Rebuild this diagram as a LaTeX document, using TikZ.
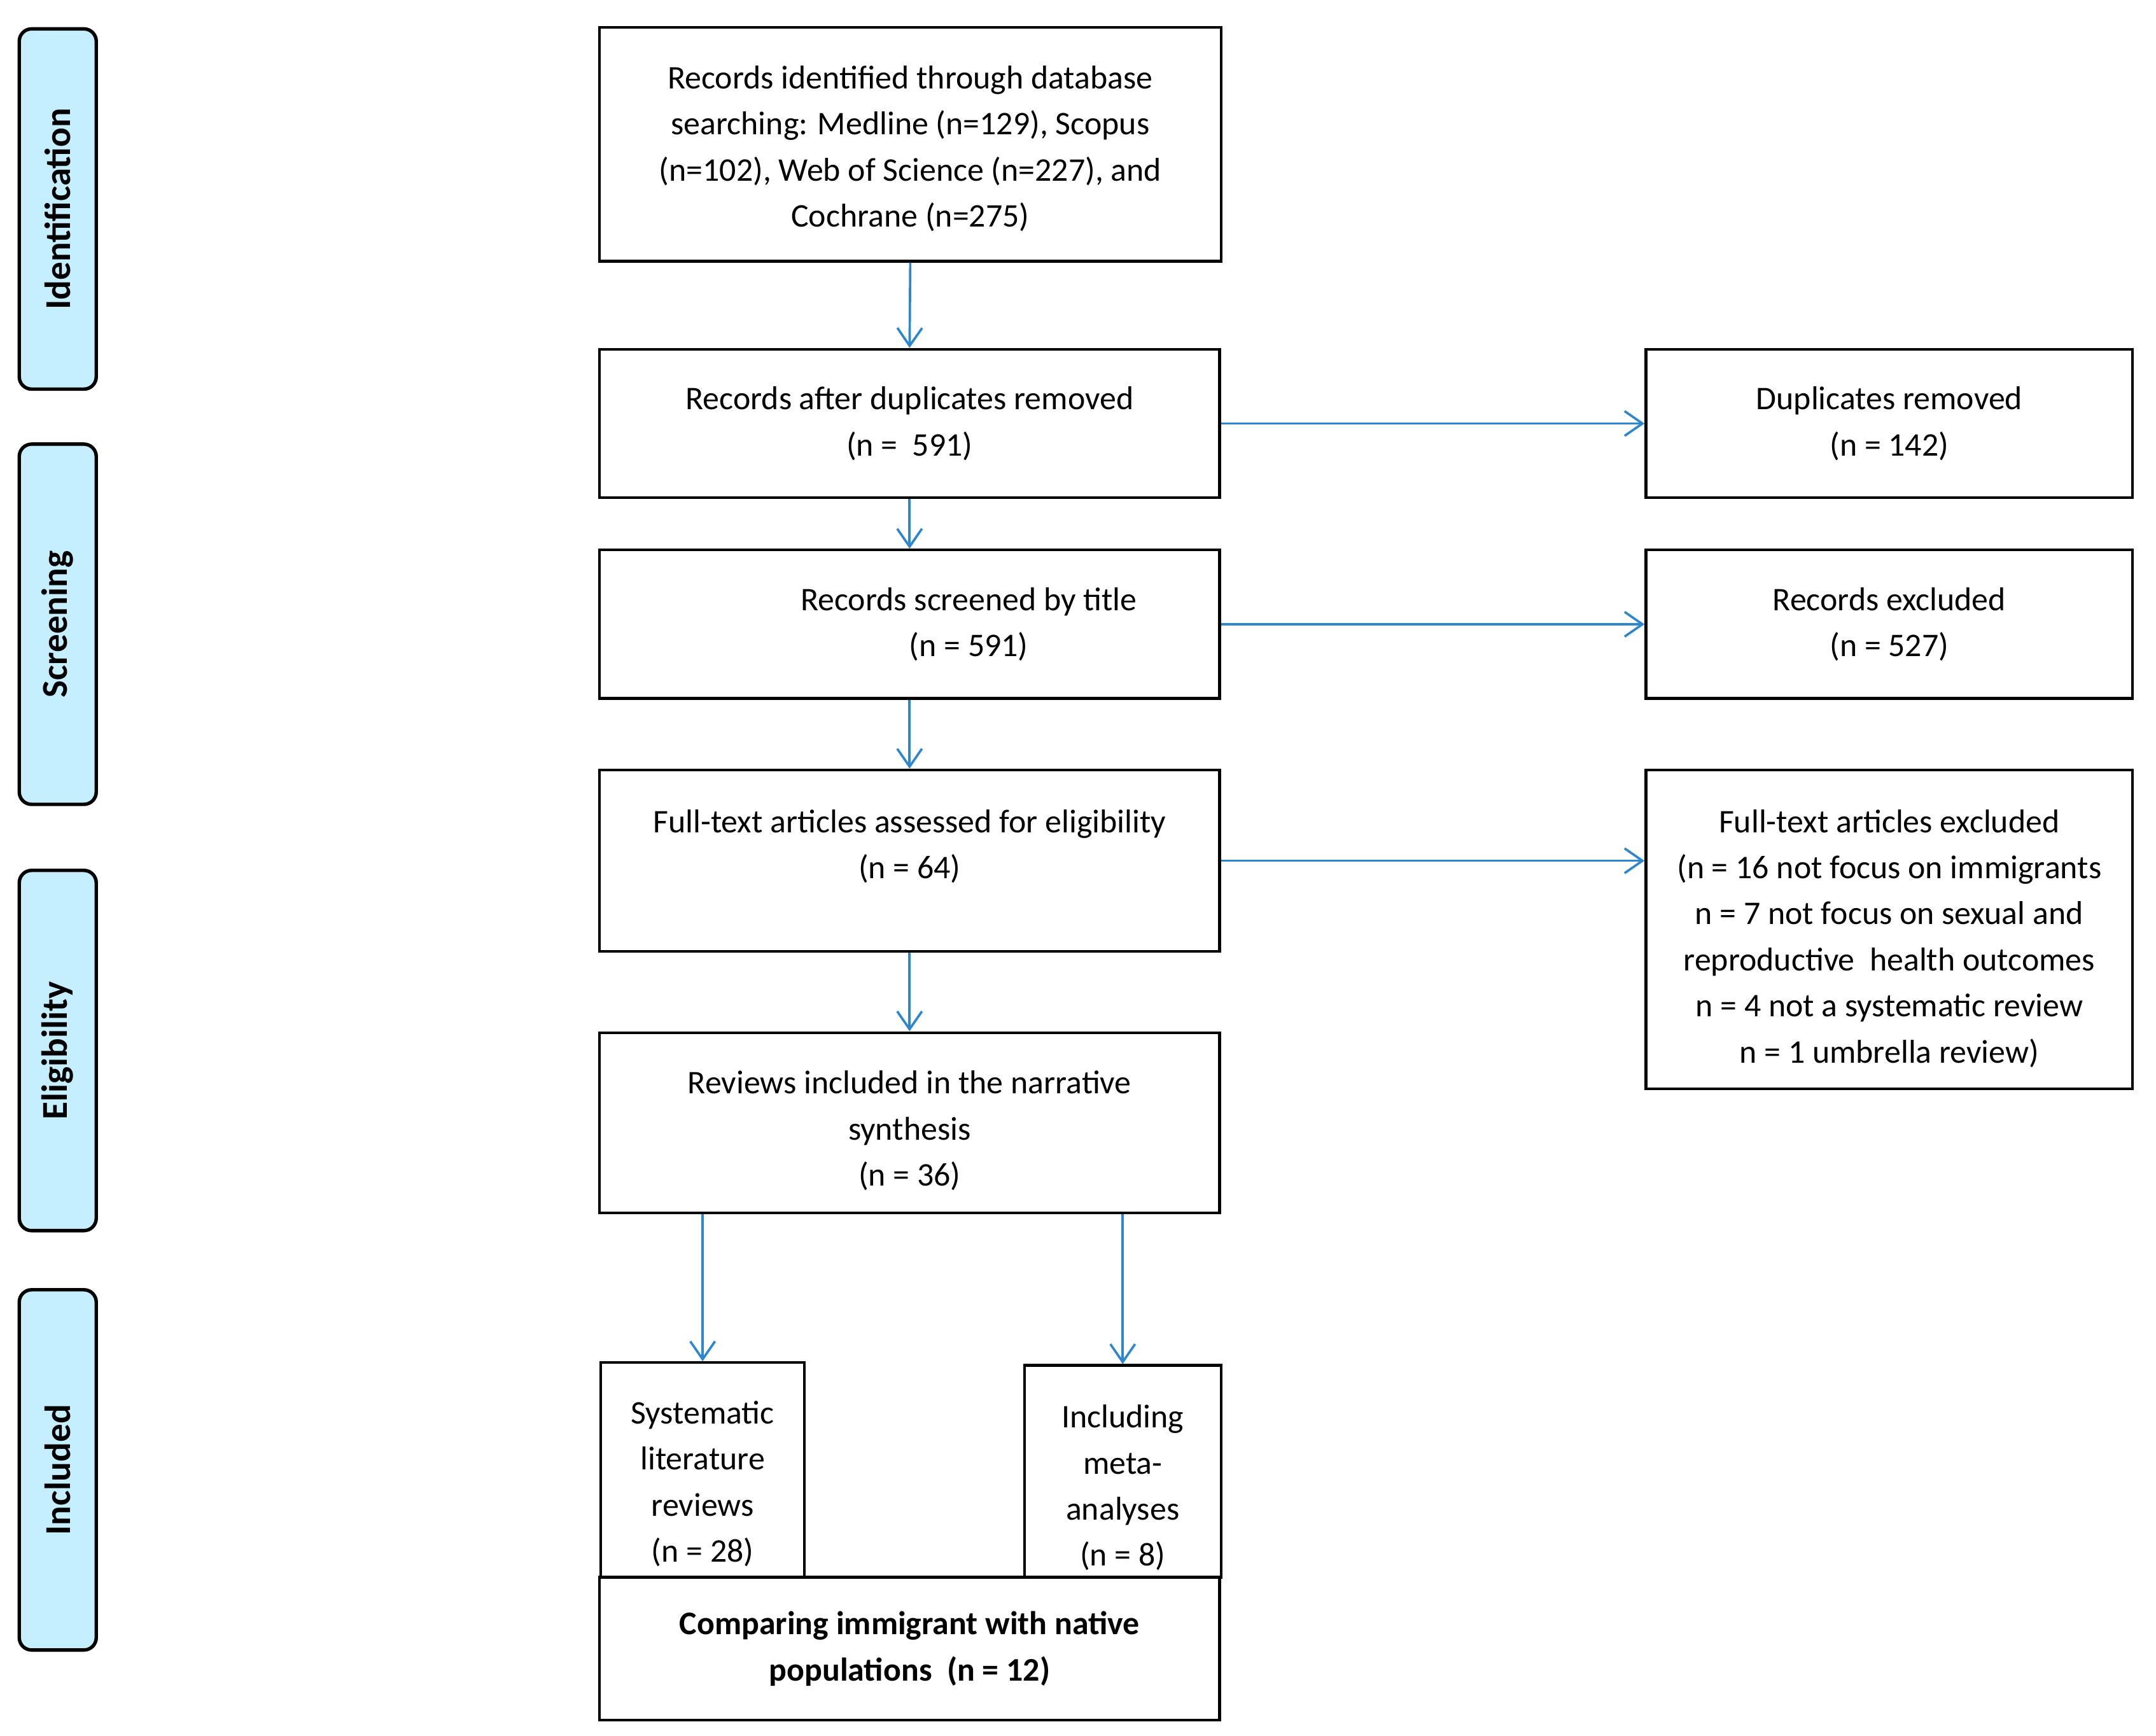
\documentclass[tikz,border=0pt]{standalone}
\usepackage{fontspec}
\setmainfont{Carlito}
\usetikzlibrary{arrows.meta}
\definecolor{arrowblue}{RGB}{46,134,204}
\definecolor{sidefill}{RGB}{197,238,254}
\newcommand{\mytopbox}[4]{\parbox[c][#1][t]{#2}{\centering\vspace*{#3}\strut#4}}
\begin{document}
\begin{tikzpicture}[x=1pt,y=-1pt,
  box/.style={draw, line width=2pt, inner sep=0pt, align=center, font=\fontsize{24}{33.5}\selectfont},
  side/.style={draw, line width=2.5pt, fill=sidefill, rounded corners=9pt, minimum width=262pt, minimum height=56pt, inner sep=0pt, rotate=90, font=\fontsize{26.5}{30}\selectfont\bfseries},
  flow/.style={draw=arrowblue, line width=1.7pt, -{Straight Barb[length=13pt,width=18pt]}}]
\useasboundingbox (0,0) rectangle (1568,1262.5);

% phase sidebars
\node[side] (s1) at (42,152) {Identification};
\node[side] (s2) at (42,454) {Screening};
\node[side] (s3) at (42,764) {Eligibility};
\node[side] (s4) at (42,1069) {Included};

% boxes
\node[box] (b1) at (662,105)
  {\mytopbox{170pt}{452pt}{21pt}{Records identified through database\\searching: Medline (n=129), Scopus\\(n=102), Web of Science (n=227), and\\Cochrane (n=275)}};
\node[box, minimum width=451pt, minimum height=108pt] (b2) at (661.5,308)
  {Records after duplicates removed\\(n = \ 591)};
\node[box, minimum width=354pt, minimum height=108pt] (b3) at (1374,308)
  {Duplicates removed\\(n = 142)};
\node[box, minimum width=451pt, minimum height=108pt] (b4) at (661.5,454)
  {\hspace*{86pt}Records screened by title\\\hspace*{86pt}(n = 591)};
\node[box, minimum width=354pt, minimum height=108pt] (b5) at (1374,454)
  {Records excluded\\(n = 527)};
\node[box] (b6) at (661.5,626)
  {\mytopbox{132pt}{451pt}{22pt}{Full-text articles assessed for eligibility\\(n = 64)}};
\node[box] (b7) at (1374,676)
  {\mytopbox{232pt}{354pt}{22pt}{Full-text articles excluded\\(n = 16 not focus on immigrants\\n = 7 not focus on sexual and\\reproductive\ \ health outcomes\\n = 4 not a systematic review\\n = 1 umbrella review)}};
\node[box] (b8) at (661.5,816.5)
  {\mytopbox{131pt}{451pt}{21pt}{Reviews included in the narrative\\synthesis\\(n = 36)}};
\node[box] (b9) at (511,1069)
  {\mytopbox{156pt}{148pt}{21pt}{Systematic\\literature\\reviews\\(n = 28)}};
\node[box] (b10) at (816.5,1070)
  {\mytopbox{154pt}{143pt}{22pt}{Including\\meta-\\analyses\\(n = 8)}};
\node[box, minimum width=451pt, minimum height=104pt, font=\fontsize{24}{33.5}\selectfont\bfseries] (b11) at (661.5,1199)
  {Comparing immigrant with native\\populations\ \ (n = 12)};

% connectors
\draw[flow] (b1.south) -- (b2.north);
\draw[flow] (b2.east) -- (b3.west);
\draw[flow] (b2.south) -- (b4.north);
\draw[flow] (b4.east) -- (b5.west);
\draw[flow] (b4.south) -- (b6.north);
\draw[flow] (b6.east) -- (b6.east -| b7.west);
\draw[flow] (b6.south) -- (b8.north);
\draw[flow] (b8.south -| b9.north) -- (b9.north);
\draw[flow] (b8.south -| b10.north) -- (b10.north);
\end{tikzpicture}
\end{document}
